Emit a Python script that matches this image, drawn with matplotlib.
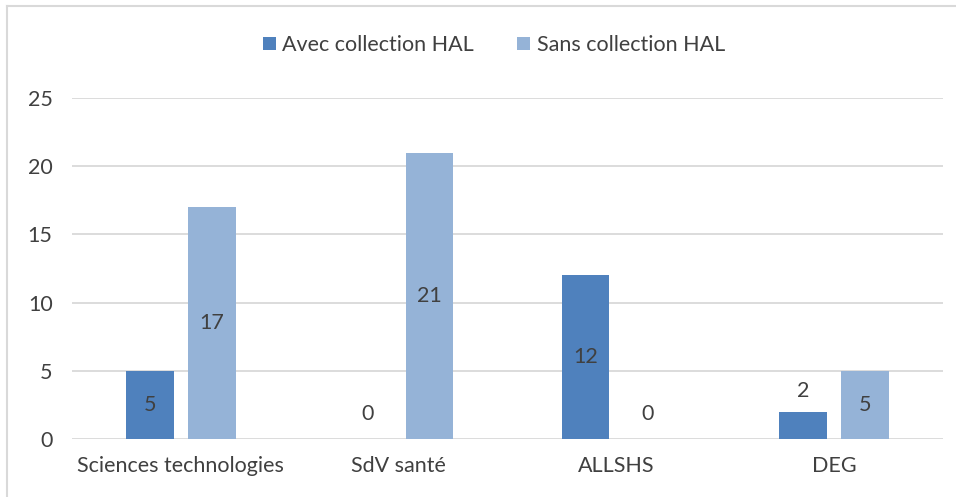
import matplotlib
matplotlib.use("Agg")
import matplotlib.pyplot as plt
from matplotlib.lines import Line2D
import numpy as np

categories = ["Sciences technologies", "SdV santé", "ALLSHS", "DEG"]
avec = [5, 0, 12, 2]
sans = [17, 21, 0, 5]
series_names = ["Avec collection HAL", "Sans collection HAL"]
yticks = [0, 5, 10, 15, 20, 25]

c_dark = "#4F81BD"
c_light = "#95B3D7"
txt = "#404040"
fs = 15.5
plt.rcParams['font.family'] = ['Lato', 'DejaVu Sans']

W, H = 956, 497
fig = plt.figure(figsize=(W/100, H/100), dpi=100)
ax = fig.add_axes([72/W, 1-439/H, (943-72)/W, (439-98)/H])

x = np.arange(len(categories))
bw = 0.22
off = 0.142
b1 = ax.bar(x - off, avec, bw, color=c_dark, label=series_names[0], zorder=3)
b2 = ax.bar(x + off, sans, bw, color=c_light, label=series_names[1], zorder=3)

for xs, vals in ((x - off, avec), (x + off, sans)):
    for xi, v in zip(xs, vals):
        if v >= 5:
            ax.text(xi, v/2, str(v), ha='center', va='center', fontsize=fs, color=txt, zorder=4)
        else:
            ax.text(xi, v + (1.1 if v == 0 else 0.75), str(v), ha='center', va='bottom',
                    fontsize=fs, color=txt, zorder=4)

ax.set_xlim(-0.5, 3.5)
ax.set_ylim(0, 25)
ax.set_yticks(yticks)
ax.set_xticks(x)
ax.set_xticklabels(categories)
ax.tick_params(axis='both', length=0, labelsize=fs, colors=txt)
ax.tick_params(axis='y', pad=14)
ax.tick_params(axis='x', pad=12)
ax.yaxis.grid(True, color="#D9D9D9", linewidth=1.3, zorder=0)
for s in ax.spines.values():
    s.set_visible(False)

fig.legend(handles=[b1, b2], labels=series_names, loc='center',
           bbox_to_anchor=(494/W, 1-45/H), ncol=2, frameon=False,
           fontsize=fs, handlelength=0.6, handleheight=0.6, handletextpad=0.3,
           columnspacing=2.0, labelcolor=txt)

fig.add_artist(Line2D([7/W, 1], [1-6/H, 1-6/H], color="#D9D9D9", lw=1.5, transform=fig.transFigure))
fig.add_artist(Line2D([7/W, 7/W], [0, 1-6/H], color="#D9D9D9", lw=1.5, transform=fig.transFigure))

fig.savefig("out.png", dpi=100)
